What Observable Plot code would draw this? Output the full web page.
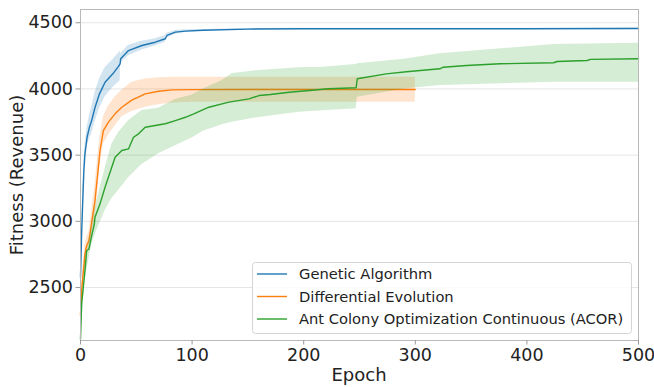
<!DOCTYPE html>
<html>
<head>
<meta charset="utf-8">
<script src="https://cdn.jsdelivr.net/npm/d3@7"></script>
<script src="https://cdn.jsdelivr.net/npm/@observablehq/plot@0.6"></script>
<style>
  body { margin: 0; background: #fff; }
  #chart { width: 654px; height: 387px; }
</style>
</head>
<body>
<div id="chart"></div>
<script>
// Best fitness per epoch (mean over runs) with spread band, for three optimizers.

const xTicks = [0, 100, 200, 300, 400, 500];
const yTicks = [2500, 3000, 3500, 4000, 4500];

// Genetic Algorithm
const gaEpoch = [0, 1, 2, 3, 4, 6, 8, 10, 13, 17, 22, 29, 34, 35.5, 36, 43, 55, 67, 76, 77.5, 85, 94, 110, 150, 200, 300, 400, 500];
const gaMean  = [2580, 2900, 3150, 3380, 3510, 3640, 3710, 3761, 3860, 3963, 4051, 4114, 4170, 4190, 4228, 4290, 4328, 4353, 4379, 4404, 4429, 4437, 4443, 4452, 4455, 4455, 4455, 4456];
const gaLow   = [2560, 2850, 3090, 3310, 3440, 3570, 3620, 3660, 3750, 3850, 3940, 4010, 4050, 4060, 4195, 4250, 4295, 4325, 4352, 4385, 4414, 4427, 4437, 4447, 4451, 4451, 4451, 4452];
const gaHigh  = [2600, 2950, 3210, 3450, 3580, 3710, 3800, 3860, 3970, 4075, 4160, 4220, 4270, 4285, 4265, 4330, 4360, 4380, 4403, 4420, 4441, 4447, 4449, 4457, 4459, 4459, 4459, 4460];

// Differential Evolution
const deEpoch = [0, 1, 4, 5.5, 7.6, 10, 13, 16, 17.5, 20.5, 25, 31, 37, 46, 58, 70, 82, 100, 150, 200, 250, 300];
const deMean  = [2290, 2476, 2754, 2816, 2855, 2990, 3157, 3408, 3535, 3686, 3749, 3812, 3862, 3915, 3963, 3983, 3993, 3995, 3996, 3996, 3996, 3996];
const deLow   = [2250, 2420, 2690, 2750, 2790, 2900, 3030, 3280, 3420, 3580, 3650, 3720, 3790, 3830, 3862, 3880, 3893, 3900, 3900, 3900, 3900, 3900];
const deHigh  = [2330, 2530, 2820, 2880, 2920, 3080, 3280, 3530, 3640, 3790, 3870, 3940, 3990, 4050, 4075, 4085, 4088, 4089, 4089, 4089, 4089, 4089];

// Ant Colony Optimization Continuous (ACOR)
const acorEpoch = [0, 1, 4, 5.5, 7.6, 10, 12.4, 13, 17.5, 22, 25, 28, 31, 37, 43, 47.5, 52, 58, 67, 76, 85, 94, 101, 115, 133, 151, 160, 170, 187, 205, 222, 247, 248, 274, 292, 322, 325, 346, 376, 424, 427, 454, 457, 500];
const acorMean  = [2110, 2376, 2627, 2778, 2791, 2892, 2980, 3030, 3132, 3257, 3333, 3408, 3484, 3535, 3547, 3635, 3661, 3711, 3724, 3737, 3761, 3786, 3810, 3862, 3900, 3925, 3950, 3958, 3975, 3988, 4001, 4009, 4077, 4114, 4130, 4152, 4164, 4177, 4190, 4198, 4207, 4215, 4223, 4228];
const acorBandEpoch = [0, 4, 10, 13, 17.5, 22, 28, 34, 43, 55, 70, 85, 100, 110, 127, 136, 160, 196, 217, 247, 248, 290, 322, 424, 500];
const acorLow   = [2100, 2560, 2820, 2900, 2990, 3080, 3170, 3232, 3330, 3430, 3510, 3570, 3630, 3680, 3730, 3749, 3785, 3824, 3835, 3850, 3938, 4000, 4026, 4051, 4051];
const acorHigh  = [2130, 2700, 2960, 3100, 3250, 3400, 3580, 3670, 3760, 3837, 3855, 3920, 3955, 4000, 4064, 4117, 4140, 4160, 4164, 4185, 4190, 4225, 4266, 4336, 4346];

const seriesNames = ["Genetic Algorithm", "Differential Evolution", "Ant Colony Optimization Continuous (ACOR)"];
const seriesColors = ["#1f77b4", "#ff7f0e", "#2ca02c"];

const rows = (ep, a, b, c) => ep.map((e, i) => ({epoch: e, a: a[i], b: b ? b[i] : null, c: c ? c[i] : null}));
const ga = rows(gaEpoch, gaMean, gaLow, gaHigh);
const de = rows(deEpoch, deMean, deLow, deHigh);
const acorLine = rows(acorEpoch, acorMean);
const acorBand = rows(acorBandEpoch, acorLow, acorHigh);

const font = "DejaVu Sans, sans-serif";
const plain = d => String(d);

const chart = Plot.plot({
  width: 654,
  height: 387,
  marginLeft: 80,
  marginRight: 16,
  marginTop: 9,
  marginBottom: 47,
  style: {fontFamily: font, fontSize: "17px", background: "#fff", color: "#262626"},
  x: {domain: [0, 500]},
  y: {domain: [2100, 4600]},
  marks: [
    Plot.gridY(yTicks, {stroke: "#e5e5e5", strokeOpacity: 1, strokeWidth: 1}),
    Plot.areaY(ga, {x: "epoch", y1: "b", y2: "c", fill: seriesColors[0], fillOpacity: 0.2}),
    Plot.lineY(ga, {x: "epoch", y: "a", stroke: seriesColors[0], strokeWidth: 1.4}),
    Plot.areaY(de, {x: "epoch", y1: "b", y2: "c", fill: seriesColors[1], fillOpacity: 0.2}),
    Plot.lineY(de, {x: "epoch", y: "a", stroke: seriesColors[1], strokeWidth: 1.4}),
    Plot.areaY(acorBand, {x: "epoch", y1: "a", y2: "b", fill: seriesColors[2], fillOpacity: 0.2}),
    Plot.lineY(acorLine, {x: "epoch", y: "a", stroke: seriesColors[2], strokeWidth: 1.4}),
    Plot.frame({stroke: "#b8b8b8", strokeWidth: 1}),
    Plot.axisX(xTicks, {tickSize: 4.5, tickPadding: 4, stroke: "#9a9a9a", fill: "#222", fontSize: 17.5, label: null, tickFormat: plain}),
    Plot.axisY(yTicks, {tickSize: 4.5, tickPadding: 3, stroke: "#9a9a9a", fill: "#222", fontSize: 17.5, label: null, tickFormat: plain})
  ]
});

document.getElementById("chart").appendChild(chart);

// Axis titles and legend
const svg = d3.select(chart);
svg.append("text")
  .attr("x", 359).attr("y", 381)
  .attr("text-anchor", "middle")
  .attr("font-family", font).attr("font-size", 18).attr("fill", "#222")
  .text("Epoch");
svg.append("text")
  .attr("transform", "translate(23,175) rotate(-90)")
  .attr("text-anchor", "middle")
  .attr("font-family", font).attr("font-size", 18).attr("fill", "#222")
  .text("Fitness (Revenue)");

const legend = svg.append("g")
  .attr("font-family", font).attr("font-size", 14.7).attr("fill", "#222")
  .attr("text-anchor", "start");
legend.append("rect")
  .attr("x", 252.5).attr("y", 262.5).attr("width", 379).attr("height", 71).attr("rx", 3)
  .attr("fill", "#fff").attr("fill-opacity", 0.8).attr("stroke", "#d5d5d5");
seriesNames.forEach((name, i) => {
  const y = 274 + i * 22.5;
  legend.append("line")
    .attr("x1", 257).attr("x2", 287).attr("y1", y).attr("y2", y)
    .attr("stroke", seriesColors[i]).attr("stroke-width", 1.4);
  legend.append("text")
    .attr("x", 299).attr("y", y + 5.2)
    .attr("text-anchor", "start")
    .text(name);
});
</script>
</body>
</html>
